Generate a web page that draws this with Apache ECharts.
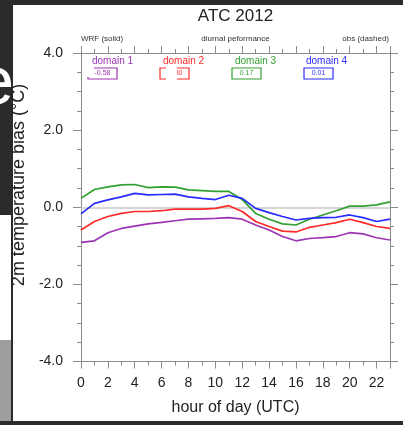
<!DOCTYPE html>
<html>
<head>
<meta charset="UTF-8">
<title>ATC 2012</title>
<script src="https://cdn.jsdelivr.net/npm/echarts@6/dist/echarts.min.js"></script>
<style>
  html, body { margin: 0; padding: 0; background: #fff; }
  #main { width: 403px; height: 425px; }
</style>
</head>
<body>
<div id="main"></div>
<script>
// hour of day (UTC)
var hours = [0, 1, 2, 3, 4, 5, 6, 7, 8, 9, 10, 11, 12, 13, 14, 15, 16, 17, 18, 19, 20, 21, 22, 23];
// 2m temperature bias, WRF (solid)
var domain1 = [-0.91, -0.87, -0.66, -0.55, -0.49, -0.43, -0.39, -0.35, -0.31, -0.30, -0.29, -0.27,
               -0.31, -0.46, -0.59, -0.76, -0.87, -0.81, -0.79, -0.76, -0.66, -0.69, -0.79, -0.85];
var domain2 = [-0.59, -0.37, -0.24, -0.16, -0.11, -0.11, -0.09, -0.05, -0.05, -0.05, -0.03, 0.04,
               -0.11, -0.37, -0.50, -0.62, -0.64, -0.52, -0.46, -0.40, -0.31, -0.40, -0.50, -0.55];
var domain3 = [0.23, 0.46, 0.53, 0.58, 0.59, 0.51, 0.53, 0.52, 0.45, 0.43, 0.41, 0.41,
               0.20, -0.16, -0.31, -0.43, -0.46, -0.31, -0.20, -0.09, 0.03, 0.03, 0.06, 0.14];
var domain4 = [-0.17, 0.10, 0.19, 0.27, 0.36, 0.32, 0.33, 0.34, 0.27, 0.23, 0.20, 0.31,
               0.23, -0.03, -0.14, -0.24, -0.33, -0.29, -0.27, -0.26, -0.20, -0.27, -0.37, -0.31];
var domainNames = ['domain 1', 'domain 2', 'domain 3', 'domain 4'];
var boxLabels = ['-0.58', '-0.30', '0.17', '0.01'];
var yTicks = [-4, -2, 0, 2, 4];

var colors = ['#9c35b4', '#ff2a2a', '#33a033', '#2a2aff'];
var FONT = 'Liberation Sans, Arial, sans-serif';

function pairs(vals) {
  return hours.map(function (h, i) { return [h, vals[i]]; });
}

var myChart = echarts.init(document.getElementById('main'));

var series = [domain1, domain2, domain3, domain4].map(function (d, i) {
  return {
    name: domainNames[i],
    type: 'line',
    data: pairs(d),
    showSymbol: false,
    symbol: 'none',
    lineStyle: { color: colors[i], width: 1.7 },
    z: 5 + i
  };
});
// zero reference line
series[0].markLine = {
  silent: true,
  symbol: 'none',
  label: { show: false },
  lineStyle: { color: '#c8c8c8', type: 'solid', width: 1.5 },
  data: [{ yAxis: 0 }]
};

// legend-ish boxes and header texts
var graphics = [];
var labelX = [92, 163, 235, 306];
var boxX = [88, 160, 232, 304];
domainNames.forEach(function (n, i) {
  graphics.push({ type: 'text', x: labelX[i], y: 61, z: 20,
    style: { text: n, fill: colors[i], font: '10px ' + FONT, align: 'left', verticalAlign: 'middle' } });
  graphics.push({ type: 'rect', z: 20, shape: { x: boxX[i], y: 68, width: 29, height: 11 },
    style: { fill: '#fff', stroke: colors[i], lineWidth: 1.2 } });
  graphics.push({ type: 'text', x: boxX[i] + 14.5, y: 73.5, z: 21,
    style: { text: boxLabels[i], fill: colors[i], font: '7px ' + FONT, align: 'center', verticalAlign: 'middle' } });
});
// damaged parts of the first two boxes
graphics.push({ type: 'rect', z: 22, shape: { x: 86, y: 66, width: 8, height: 11 }, style: { fill: '#fff' } });
graphics.push({ type: 'rect', z: 22, shape: { x: 166, y: 66, width: 11, height: 15 }, style: { fill: '#fff' } });

graphics.push(
  { type: 'text', x: 235.5, y: 16, z: 20,
    style: { text: 'ATC 2012', fill: '#222', font: '17px ' + FONT, align: 'center', verticalAlign: 'middle' } },
  { type: 'text', x: 81, y: 39, z: 20,
    style: { text: 'WRF (solid)', fill: '#333', font: '8px ' + FONT, align: 'left', verticalAlign: 'middle' } },
  { type: 'text', x: 235.5, y: 39, z: 20,
    style: { text: 'diurnal peformance', fill: '#333', font: '8px ' + FONT, align: 'center', verticalAlign: 'middle' } },
  { type: 'text', x: 389, y: 39, z: 20,
    style: { text: 'obs (dashed)', fill: '#333', font: '8px ' + FONT, align: 'right', verticalAlign: 'middle' } },
  // y axis title
  { type: 'text', x: 19.5, y: 185, rotation: Math.PI / 2, z: 30,
    style: { text: '2m temperature bias (°C)', fill: '#222', font: '18px ' + FONT, align: 'center', verticalAlign: 'middle' } }
);

// screen frame around the screenshot
graphics.push(
  { type: 'rect', z: 1, shape: { x: 0, y: 0, width: 12, height: 215 }, style: { fill: '#2b2b2b' } },
  { type: 'text', x: 14, y: 85, z: 2,
    style: { text: 'e', fill: '#fff', font: '69px ' + FONT, align: 'right', verticalAlign: 'middle' } },
  { type: 'rect', z: 3, shape: { x: 13, y: 40, width: 6, height: 85 }, style: { fill: '#fff' } },
  { type: 'rect', z: 1, shape: { x: 0, y: 340, width: 12, height: 85 }, style: { fill: '#9d9d9d' } },
  { type: 'rect', z: 3, shape: { x: 11, y: 0, width: 2, height: 425 }, style: { fill: '#2b2b2b' } },
  { type: 'rect', z: 3, shape: { x: 0, y: 0, width: 403, height: 5 }, style: { fill: '#2b2b2b' } },
  { type: 'rect', z: 3, shape: { x: 0, y: 421, width: 403, height: 4 }, style: { fill: '#2b2b2b' } }
);

function axisLine() {
  return { show: true, onZero: false, lineStyle: { color: '#8a8a8a', width: 1 } };
}

option = {
  animation: false,
  backgroundColor: '#fff',
  grid: { left: 81, right: 13, top: 53, bottom: 63.5, containLabel: false },
  xAxis: [{
    type: 'value', min: 0, max: 23, interval: 2, position: 'bottom',
    name: 'hour of day (UTC)', nameLocation: 'middle', nameGap: 38,
    nameTextStyle: { fontSize: 16, color: '#222', fontFamily: FONT },
    axisLine: axisLine(),
    axisTick: { show: true, length: 7, lineStyle: { color: '#8a8a8a' } },
    minorTick: { show: true, splitNumber: 2, length: 4, lineStyle: { color: '#8a8a8a' } },
    axisLabel: { fontSize: 14, color: '#222', margin: 15, fontFamily: FONT, showMaxLabel: false },
    splitLine: { show: false }
  }, {
    type: 'value', min: 0, max: 23, interval: 2, position: 'top',
    axisLine: axisLine(),
    axisTick: { show: true, length: 7, lineStyle: { color: '#8a8a8a' } },
    minorTick: { show: true, splitNumber: 2, length: 4, lineStyle: { color: '#8a8a8a' } },
    axisLabel: { show: false },
    splitLine: { show: false }
  }],
  yAxis: [{
    type: 'value', min: yTicks[0], max: yTicks[yTicks.length - 1], interval: 2, position: 'left',
    axisLine: axisLine(),
    axisTick: { show: true, length: 8, lineStyle: { color: '#8a8a8a' } },
    minorTick: { show: true, splitNumber: 4, length: 4, lineStyle: { color: '#8a8a8a' } },
    axisLabel: {
      fontSize: 14, color: '#222', margin: 18, fontFamily: FONT,
      formatter: function (v) { return v.toFixed(1); }
    },
    splitLine: { show: false }
  }, {
    type: 'value', min: yTicks[0], max: yTicks[yTicks.length - 1], interval: 2, position: 'right',
    axisLine: axisLine(),
    axisTick: { show: true, length: 8, lineStyle: { color: '#8a8a8a' } },
    minorTick: { show: true, splitNumber: 4, length: 4, lineStyle: { color: '#8a8a8a' } },
    axisLabel: { show: false },
    splitLine: { show: false }
  }],
  graphic: graphics,
  series: series
};
myChart.setOption(option);
</script>
</body>
</html>
